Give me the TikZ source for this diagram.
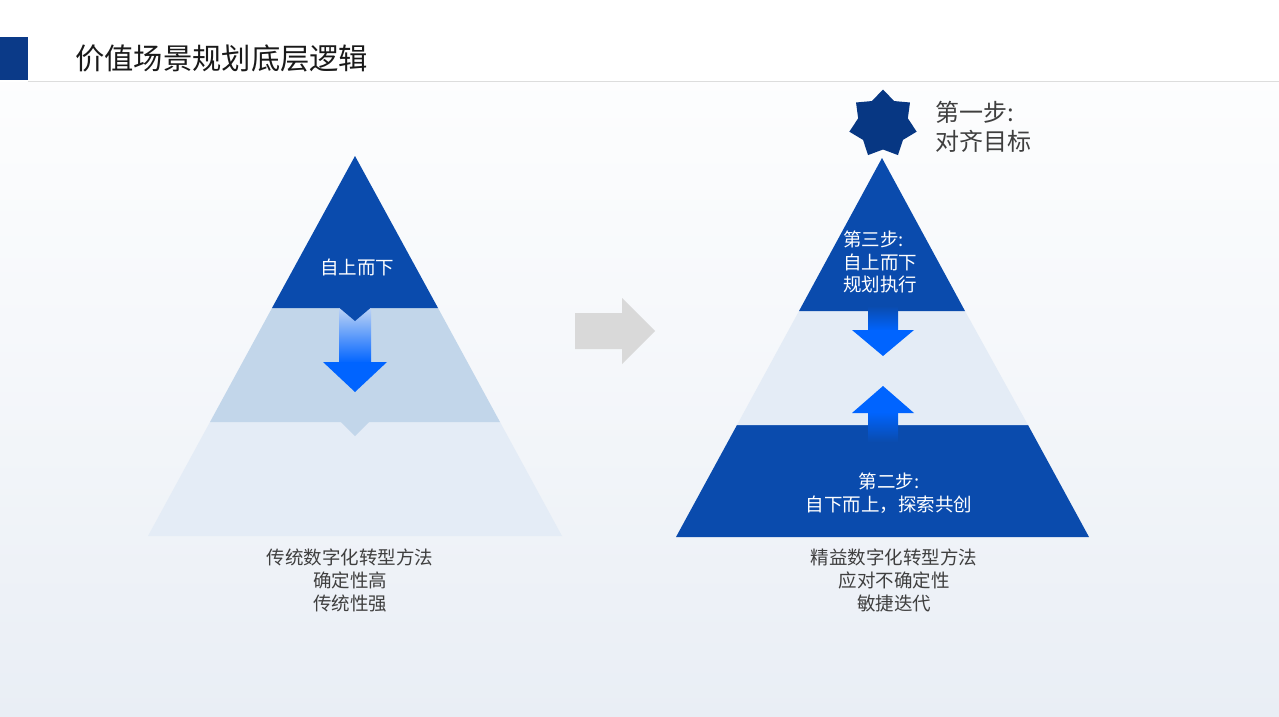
\documentclass[tikz,border=0pt]{standalone}
\usepackage{fontspec}
\setmainfont{Noto Sans CJK SC}
\definecolor{navy}{HTML}{0B3A88}
\definecolor{dblue}{HTML}{0A4BAD}
\definecolor{bright}{HTML}{0064FF}
\definecolor{pale}{HTML}{BDD3F5}
\definecolor{midband}{HTML}{C2D6EA}
\definecolor{lightband}{HTML}{E4ECF6}
\definecolor{stark}{HTML}{073783}
\definecolor{txtgrey}{HTML}{3F3F3F}
\definecolor{bgbottom}{HTML}{E9EEF5}
\definecolor{rulegrey}{HTML}{DDDDDD}
\definecolor{arrowgrey}{HTML}{D9D9D9}
\tikzset{
  caption/.style={font=\fontsize{18.5}{23}\selectfont, text=txtgrey, align=center, inner sep=0pt},
  inlabel/.style={font=\fontsize{18.5}{22.5}\selectfont, text=white, inner sep=0pt},
  steplabel/.style={font=\fontsize{24}{29}\selectfont, text=txtgrey, align=left, inner sep=0pt, anchor=west},
}
\begin{document}
\begin{tikzpicture}[x=1pt,y=-1pt]
\useasboundingbox (0,0) rectangle (1279,717);
% background
\shade[top color=white, bottom color=bgbottom, middle color=white!55!bgbottom] (0,0) rectangle (1279,717);
\fill[white] (0,0) rectangle (1279,82);
% header
\fill[navy] (0,37) rectangle (28,80);
\draw[rulegrey, line width=1pt] (28,81.5) -- (1279,81.5);
\node[font=\fontsize{29.3}{34}\selectfont, text=black!90, anchor=west, inner sep=0pt] (title) at (75,58) {价值场景规划底层逻辑};

% ---------- left pyramid ----------
\fill[lightband] (210,422) -- (500,422) -- (562,536) -- (148,536) -- cycle;
\fill[midband] (272,308) -- (438,308) -- (500,422) -- (210,422) -- cycle;
\fill[midband] (340,421) -- (370,421) -- (355,436) -- cycle;
\fill[dblue] (355,156) -- (438,308) -- (272,308) -- cycle;
\shade[top color=pale, bottom color=bright] (339,308) rectangle (371,363);
\fill[bright] (323,362) -- (387,362) -- (355,392) -- cycle;
\fill[dblue] (339,307.5) -- (371,307.5) -- (355,321) -- cycle;
\node[inlabel] (ltop) at (357,267) {自上而下};
\node[caption] (lcap) at (350,580) {传统数字化转型方法\\确定性高\\传统性强};

% ---------- grey arrow ----------
\fill[arrowgrey] (575,313) -- (622,313) -- (622,298) -- (655,331) -- (622,364) -- (622,349) -- (575,349) -- cycle;

% ---------- right pyramid ----------
\fill[dblue] (737,425) -- (1028,425) -- (1089,537) -- (676,537) -- cycle;
\fill[lightband] (799,311) -- (965,311) -- (1028,425) -- (737,425) -- cycle;
\fill[dblue] (882,158) -- (965,311) -- (799,311) -- cycle;
% down arrow
\shade[top color=dblue, bottom color=bright] (868,306) rectangle (898,331);
\fill[bright] (852,330) -- (914,330) -- (883,356) -- cycle;
% up arrow
\fill[bright] (852,413) -- (914,413) -- (883,386) -- cycle;
\shade[top color=bright, bottom color=dblue] (868,412) rectangle (898,442);
% star
\begin{scope}[shift={(883,124)}]
  \fill[stark] (0,-34.5) \foreach \i in {1,...,13} {
     -- ({90+\i*360/14}:{-ifthenelse(mod(\i,2)==1,25.5,34.5)}) } -- cycle;
\end{scope}
\node[steplabel] (s1) at (935,127) {第一步:\\对齐目标};
\node[inlabel, align=left, anchor=west] (s3) at (843,262) {第三步:\\自上而下\\规划执行};
\node[inlabel, align=center] (s2) at (889,493) {第二步:\hspace{0.5em}\\自下而上，探索共创};
\node[caption] (rcap) at (894,580) {精益数字化转型方法\\应对不确定性\\敏捷迭代};
\end{tikzpicture}
\end{document}
